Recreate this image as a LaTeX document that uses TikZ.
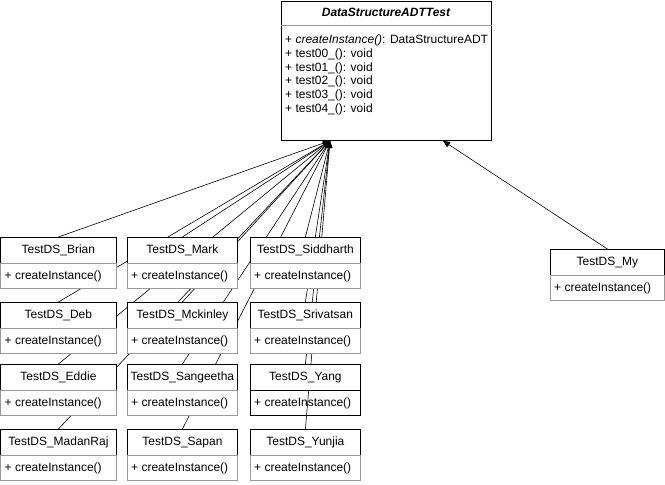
\documentclass[tikz,border=0pt]{standalone}
\usepackage{fontspec}
\setmainfont{Liberation Sans}
\usetikzlibrary{arrows.meta}
\definecolor{sepgray}{HTML}{999999}
\newcommand\myfs{\fontsize{12}{14}\selectfont}
\pgfdeclarelayer{ylayer}
\pgfdeclarelayer{elayer}
\pgfsetlayers{ylayer,elayer,main}
\newcommand\umlclass[5]{%
  \node[hdr, minimum width=#4pt] (#1) at (#2,#3) {#5};
  \node[bdy, minimum width=#4pt] (#1b) at (#2,#3+26) {};
  \node[mtxt] (#1t) at ([xshift=4pt]#1b.west) {+ createInstance()};
}
\begin{document}
\begin{tikzpicture}[x=1pt,y=-1pt,
  hdr/.style={draw=black, fill=white, line width=0.8pt, anchor=north west,
    minimum height=26pt, inner sep=0pt, font=\myfs},
  bdy/.style={draw=sepgray, fill=white, line width=0.8pt, anchor=north west,
    minimum height=25pt, inner sep=0pt},
  mtxt/.style={font=\myfs, anchor=west, inner sep=0pt},
  mline/.style={font=\myfs, anchor=base west, inner sep=0pt},
  inh/.style={line width=0.6pt, -{Triangle[length=7pt,width=6pt]}}]
\useasboundingbox (0,0) rectangle (665,485);

% main abstract class
\node[draw=black, fill=white, line width=0.8pt, anchor=north west,
  minimum width=210pt, minimum height=139.5pt, inner sep=0pt] (adt) at (281,0.5) {};
\draw[sepgray, line width=0.8pt] ([yshift=-25pt]adt.north west) -- ([yshift=-25pt]adt.north east);
\node[font=\myfs\bfseries\itshape] (title) at (386,12.5) {DataStructureADTTest};
\node[mline] (m0) at (285,43.5) {+ \textit{createInstance()}: DataStructureADT};
\node[mline] (m1) at (285,57.3) {+ test00\_(): void};
\node[mline] (m2) at (285,71.1) {+ test01\_(): void};
\node[mline] (m3) at (285,84.9) {+ test02\_(): void};
\node[mline] (m4) at (285,98.7) {+ test03\_(): void};
\node[mline] (m5) at (285,112.5) {+ test04\_(): void};
\coordinate (tgt) at ([xshift=49pt]adt.south west);
\coordinate (tgt2) at ([xshift=162pt]adt.south west);

% Yang: header above the connectors, body under them
\node[hdr, minimum width=110pt] (yang) at (250,364) {TestDS\_Yang};
\begin{pgfonlayer}{ylayer}
  \node[bdy, draw=black, minimum width=110pt] (yangb) at (250,390) {};
  \node[mtxt] (yangt) at ([xshift=4pt]yangb.west) {+ createInstance()};
\end{pgfonlayer}

% column 1
\umlclass{brian}{0.5}{237}{115}{TestDS\_Brian}
\umlclass{deb}{0.5}{302}{115}{TestDS\_Deb}
\umlclass{eddie}{0.5}{364}{115}{TestDS\_Eddie}
\umlclass{madanraj}{0.5}{429}{115}{TestDS\_MadanRaj}
% column 2
\umlclass{mark}{127}{237}{110}{TestDS\_Mark}
\umlclass{mckinley}{127}{302}{110}{TestDS\_Mckinley}
\umlclass{sangeetha}{127}{364}{110}{TestDS\_Sangeetha}
\umlclass{sapan}{127}{429}{110}{TestDS\_Sapan}
% column 3
\umlclass{siddharth}{250}{237}{110}{TestDS\_Siddharth}
\umlclass{srivatsan}{250}{302}{110}{TestDS\_Srivatsan}
\umlclass{yunjia}{250}{429}{110}{TestDS\_Yunjia}
% right
\umlclass{my}{550}{249}{114}{TestDS\_My}

% connectors
\begin{pgfonlayer}{elayer}
  \foreach \c in {brian,deb,eddie,madanraj,mark,mckinley,sangeetha,sapan,siddharth,srivatsan,yang,yunjia}
    \draw[inh] (\c.north) -- (tgt);
  \draw[inh] (my.north) -- (tgt2);
\end{pgfonlayer}
\end{tikzpicture}
\end{document}
